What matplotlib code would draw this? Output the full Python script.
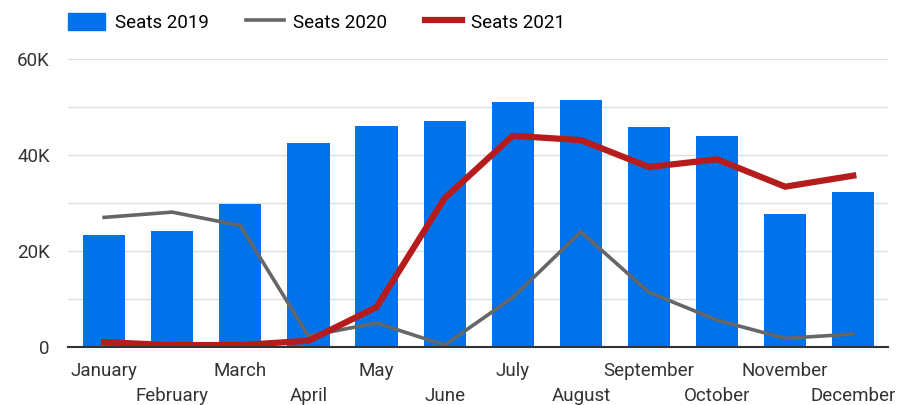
import matplotlib
matplotlib.use('Agg')
from matplotlib import pyplot as plt
from matplotlib import transforms
from matplotlib.patches import Patch
from matplotlib.lines import Line2D
from matplotlib.ticker import FuncFormatter, MultipleLocator

months = ["January", "February", "March", "April", "May", "June",
          "July", "August", "September", "October", "November", "December"]
seats_2019 = [23300, 24100, 29800, 42500, 46000, 47000,
              51000, 51400, 45900, 43900, 27800, 32300]
seats_2020 = [27000, 28100, 25300, 2300, 5000, 400,
              10300, 24000, 11400, 5600, 1800, 2700]
seats_2021 = [1000, 400, 400, 1300, 8300, 31000,
              44000, 43100, 37500, 39100, 33400, 35700]

BLUE = '#0073EA'
GRAY = '#666666'
RED = '#B71C1C'

plt.rcParams['font.family'] = ['Roboto', 'DejaVu Sans']

fig = plt.figure(figsize=(9.01, 4.05), dpi=100)
ax = fig.add_axes([68 / 901, 58 / 405, 820 / 901, 288 / 405])

x = list(range(len(months)))
ax.bar(x, seats_2019, width=0.62, color=BLUE, zorder=2)
ax.plot(x, seats_2020, color=GRAY, lw=2.6, zorder=3, solid_joinstyle='miter')
ax.plot(x, seats_2021, color=RED, lw=4.5, zorder=4, solid_joinstyle='miter')

ax.set_xlim(-0.53, 11.51)
ax.set_ylim(0, 60000)
ax.yaxis.set_major_locator(MultipleLocator(20000))
ax.yaxis.set_minor_locator(MultipleLocator(10000))
ax.yaxis.set_major_formatter(FuncFormatter(lambda v, p: '0' if v == 0 else f'{int(v / 1000)}K'))
ax.grid(axis='y', which='both', color='#dddddd', lw=1, zorder=0)

ax.set_xticks(x)
ax.set_xticklabels(months)
ax.tick_params(axis='both', length=0, labelsize=13.5, colors='#333333')
ax.tick_params(axis='y', which='minor', length=0)
ax.tick_params(axis='y', pad=13)
ax.tick_params(axis='x', pad=11)
# stagger every second month label one row down
shift = transforms.ScaledTranslation(0, -25 / 100, fig.dpi_scale_trans)
for i, lab in enumerate(ax.get_xticklabels()):
    if i % 2 == 1:
        lab.set_transform(lab.get_transform() + shift)

for s in ['left', 'right', 'top']:
    ax.spines[s].set_visible(False)
ax.spines['bottom'].set_color('#333333')
ax.spines['bottom'].set_linewidth(1.5)
ax.spines['bottom'].set_zorder(5)

handles = [Patch(color=BLUE),
           Line2D([0], [0], color=GRAY, lw=2.6),
           Line2D([0], [0], color=RED, lw=4.5)]
fig.legend(handles, ['Seats 2019', 'Seats 2020', 'Seats 2021'],
           loc='upper left', bbox_to_anchor=(51 / 901, 1.01), ncol=3,
           frameon=False, fontsize=13.5, handlelength=2.0, handleheight=1.0,
           columnspacing=2.0, handletextpad=0.5)

fig.savefig('out.png', dpi=100)
